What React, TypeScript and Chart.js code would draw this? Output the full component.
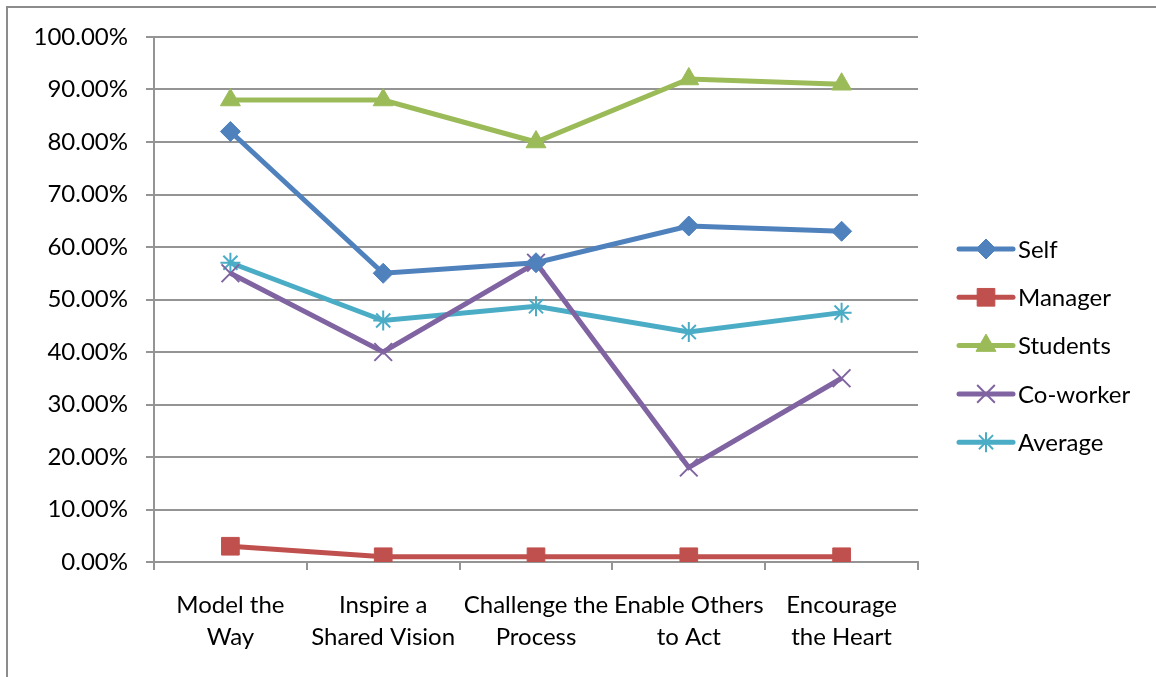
import React, { useEffect, useRef } from 'react';
import { Chart, registerables } from 'chart.js';
import { drawPoint } from 'chart.js/helpers';

Chart.register(...registerables);

const categories = [
  ['Model the', 'Way'],
  ['Inspire a', 'Shared Vision'],
  ['Challenge the', 'Process'],
  ['Enable Others', 'to Act'],
  ['Encourage', 'the Heart'],
];
const selfValues = [0.82, 0.55, 0.57, 0.64, 0.63];
const managerValues = [0.03, 0.01, 0.01, 0.01, 0.01];
const studentsValues = [0.88, 0.88, 0.8, 0.92, 0.91];
const coworkerValues = [0.55, 0.4, 0.57, 0.18, 0.35];
const averageValues = [0.57, 0.46, 0.487, 0.438, 0.475];
const seriesNames = ['Self', 'Manager', 'Students', 'Co-worker', 'Average'];
const seriesColors = ['#4F81BD', '#C0504D', '#9BBB59', '#8064A2', '#4BACC6'];

const FONT = 'Lato, "Liberation Sans", sans-serif';
const FONT_SIZE = 24;

const legendPlugin = {
  id: 'customLegend',
  afterDraw(chart: any) {
    const ctx = chart.ctx;
    const area = chart.chartArea;
    const x1 = area.right + 41;
    const x2 = x1 + 54;
    const y0 = 249;
    const step = 48.3;
    ctx.save();
    chart.data.datasets.forEach((ds: any, i: number) => {
      const y = y0 + i * step;
      ctx.strokeStyle = ds.borderColor;
      ctx.lineWidth = 5;
      ctx.lineCap = 'round';
      ctx.beginPath();
      ctx.moveTo(x1, y);
      ctx.lineTo(x2, y);
      ctx.stroke();
      ctx.lineCap = 'butt';
      ctx.fillStyle = ds.pointBackgroundColor;
      ctx.strokeStyle = ds.pointBorderColor;
      ctx.lineWidth = ds.pointBorderWidth;
      drawPoint(ctx, { pointStyle: ds.pointStyle, rotation: 0, radius: ds.pointRadius, borderWidth: ds.pointBorderWidth }, (x1 + x2) / 2, y);
      ctx.fillStyle = '#000';
      ctx.font = `${FONT_SIZE}px ${FONT}`;
      ctx.textBaseline = 'middle';
      ctx.textAlign = 'left';
      ctx.fillText(ds.label, x2 + 5, y + 1);
    });
    ctx.restore();
  },
};

const borderPlugin = {
  id: 'outerBorder',
  beforeDraw(chart: any) {
    const ctx = chart.ctx;
    ctx.save();
    ctx.fillStyle = '#fff';
    ctx.fillRect(0, 0, chart.width, chart.height);
    ctx.strokeStyle = '#8c8c8c';
    ctx.lineWidth = 2;
    ctx.strokeRect(7, 7, 3000, 3000);
    ctx.restore();
  },
};

export default function App() {
  const ref = useRef<HTMLCanvasElement | null>(null);
  useEffect(() => {
    if (!ref.current) return;
    const valuesList = [selfValues, managerValues, studentsValues, coworkerValues, averageValues];
    const styles = ['rectRot', 'rect', 'triangle', 'crossRot', 'star'];
    const radii = [10, 12.5, 11.5, 12.5, 10];
    const pbw = [1, 1, 1, 2, 2];
    const datasets = seriesNames.map((name, i) => ({
      label: name,
      data: valuesList[i],
      borderColor: seriesColors[i],
      backgroundColor: seriesColors[i],
      borderWidth: 5,
      pointStyle: styles[i],
      pointRadius: radii[i],
      pointBackgroundColor: seriesColors[i],
      pointBorderColor: seriesColors[i],
      pointBorderWidth: pbw[i],
      tension: 0,
      fill: false,
    }));
    const chart = new Chart(ref.current, {
      type: 'line',
      data: { labels: categories, datasets },
      options: {
        animation: false,
        responsive: false,
        layout: { padding: { left: 0, top: 37, right: 238, bottom: 0 } },
        plugins: { legend: { display: false }, tooltip: { enabled: false } },
        scales: {
          x: {
            offset: true,
            grid: { display: true, offset: true, drawOnChartArea: false, drawTicks: true, tickLength: 8, color: '#949494', lineWidth: 2 },
            border: { display: true, color: '#949494', width: 2 },
            ticks: { color: '#000', font: { family: FONT, size: FONT_SIZE, lineHeight: 1.3 }, maxRotation: 0, autoSkip: false, padding: 20 },
            afterFit(scale: any) { scale.height = 115; },
          },
          y: {
            min: 0,
            max: 1,
            grid: { color: '#949494', lineWidth: 2, tickLength: 8, drawTicks: true },
            border: { display: true, color: '#949494', width: 2 },
            ticks: {
              stepSize: 0.1,
              color: '#000',
              padding: 18,
              font: { family: FONT, size: FONT_SIZE },
              callback: (v: any) => (Number(v) * 100).toFixed(2) + '%',
            },
            afterFit(scale: any) { scale.width = 154; },
          },
        },
      } as any,
      plugins: [borderPlugin, legendPlugin],
    });
    return () => chart.destroy();
  }, []);
  return (
    <div style={{ position: 'fixed', left: 0, top: 0, width: 1156, height: 677 }}>
      <canvas ref={ref} width={1156} height={677} style={{ display: 'block' }} />
    </div>
  );
}
